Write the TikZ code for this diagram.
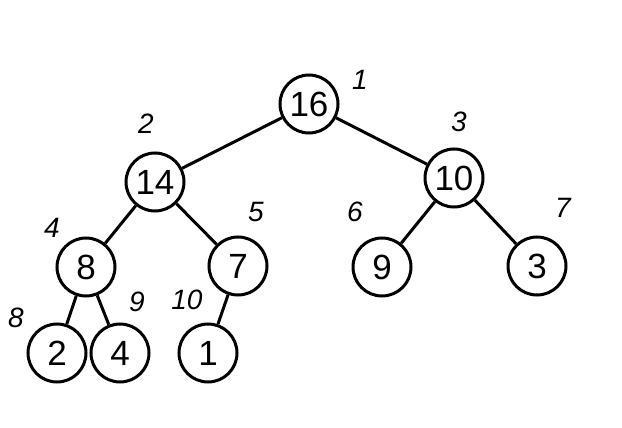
\documentclass[tikz,border=0pt]{standalone}
\usepackage{fontspec}
\setmainfont{Liberation Sans}
\begin{document}
\begin{tikzpicture}[x=1pt,y=-1pt,
  heapnode/.style={circle,draw,line width=3pt,minimum size=58pt,inner sep=0pt,font=\fontsize{35}{35}\selectfont},
  idx/.style={inner sep=0pt,font=\fontsize{28}{28}\selectfont\itshape},
  edge/.style={line width=3pt}]
\useasboundingbox (0,0) rectangle (622,428);
\node[heapnode] (n1) at (309,104) {16};
\node[heapnode] (n2) at (155,182) {14};
\node[heapnode] (n3) at (454,178) {10};
\node[heapnode] (n4) at (86,267) {8};
\node[heapnode] (n5) at (238,266) {7};
\node[heapnode] (n6) at (382,267) {9};
\node[heapnode] (n7) at (537,266) {3};
\node[heapnode] (n8) at (57,353) {2};
\node[heapnode] (n9) at (120,353) {4};
\node[heapnode] (n10) at (208,353) {1};

\draw[edge] (n1) -- (n2);
\draw[edge] (n1) -- (n3);
\draw[edge] (n2) -- (n4);
\draw[edge] (n2) -- (n5);
\draw[edge] (n3) -- (n6);
\draw[edge] (n3) -- (n7);
\draw[edge] (n4) -- (n8);
\draw[edge] (n4) -- (n9);
\draw[edge] (n5) -- (n10);

\node[idx] (i1) at (360,80) {1};
\node[idx] (i2) at (146,124) {2};
\node[idx] (i3) at (459,122) {3};
\node[idx] (i4) at (52,228) {4};
\node[idx] (i5) at (256,212) {5};
\node[idx] (i6) at (355,212) {6};
\node[idx] (i7) at (563,208) {7};
\node[idx] (i8) at (16,318) {8};
\node[idx] (i9) at (137,302) {9};
\node[idx] (i10) at (187,300) {10};
\end{tikzpicture}
\end{document}
